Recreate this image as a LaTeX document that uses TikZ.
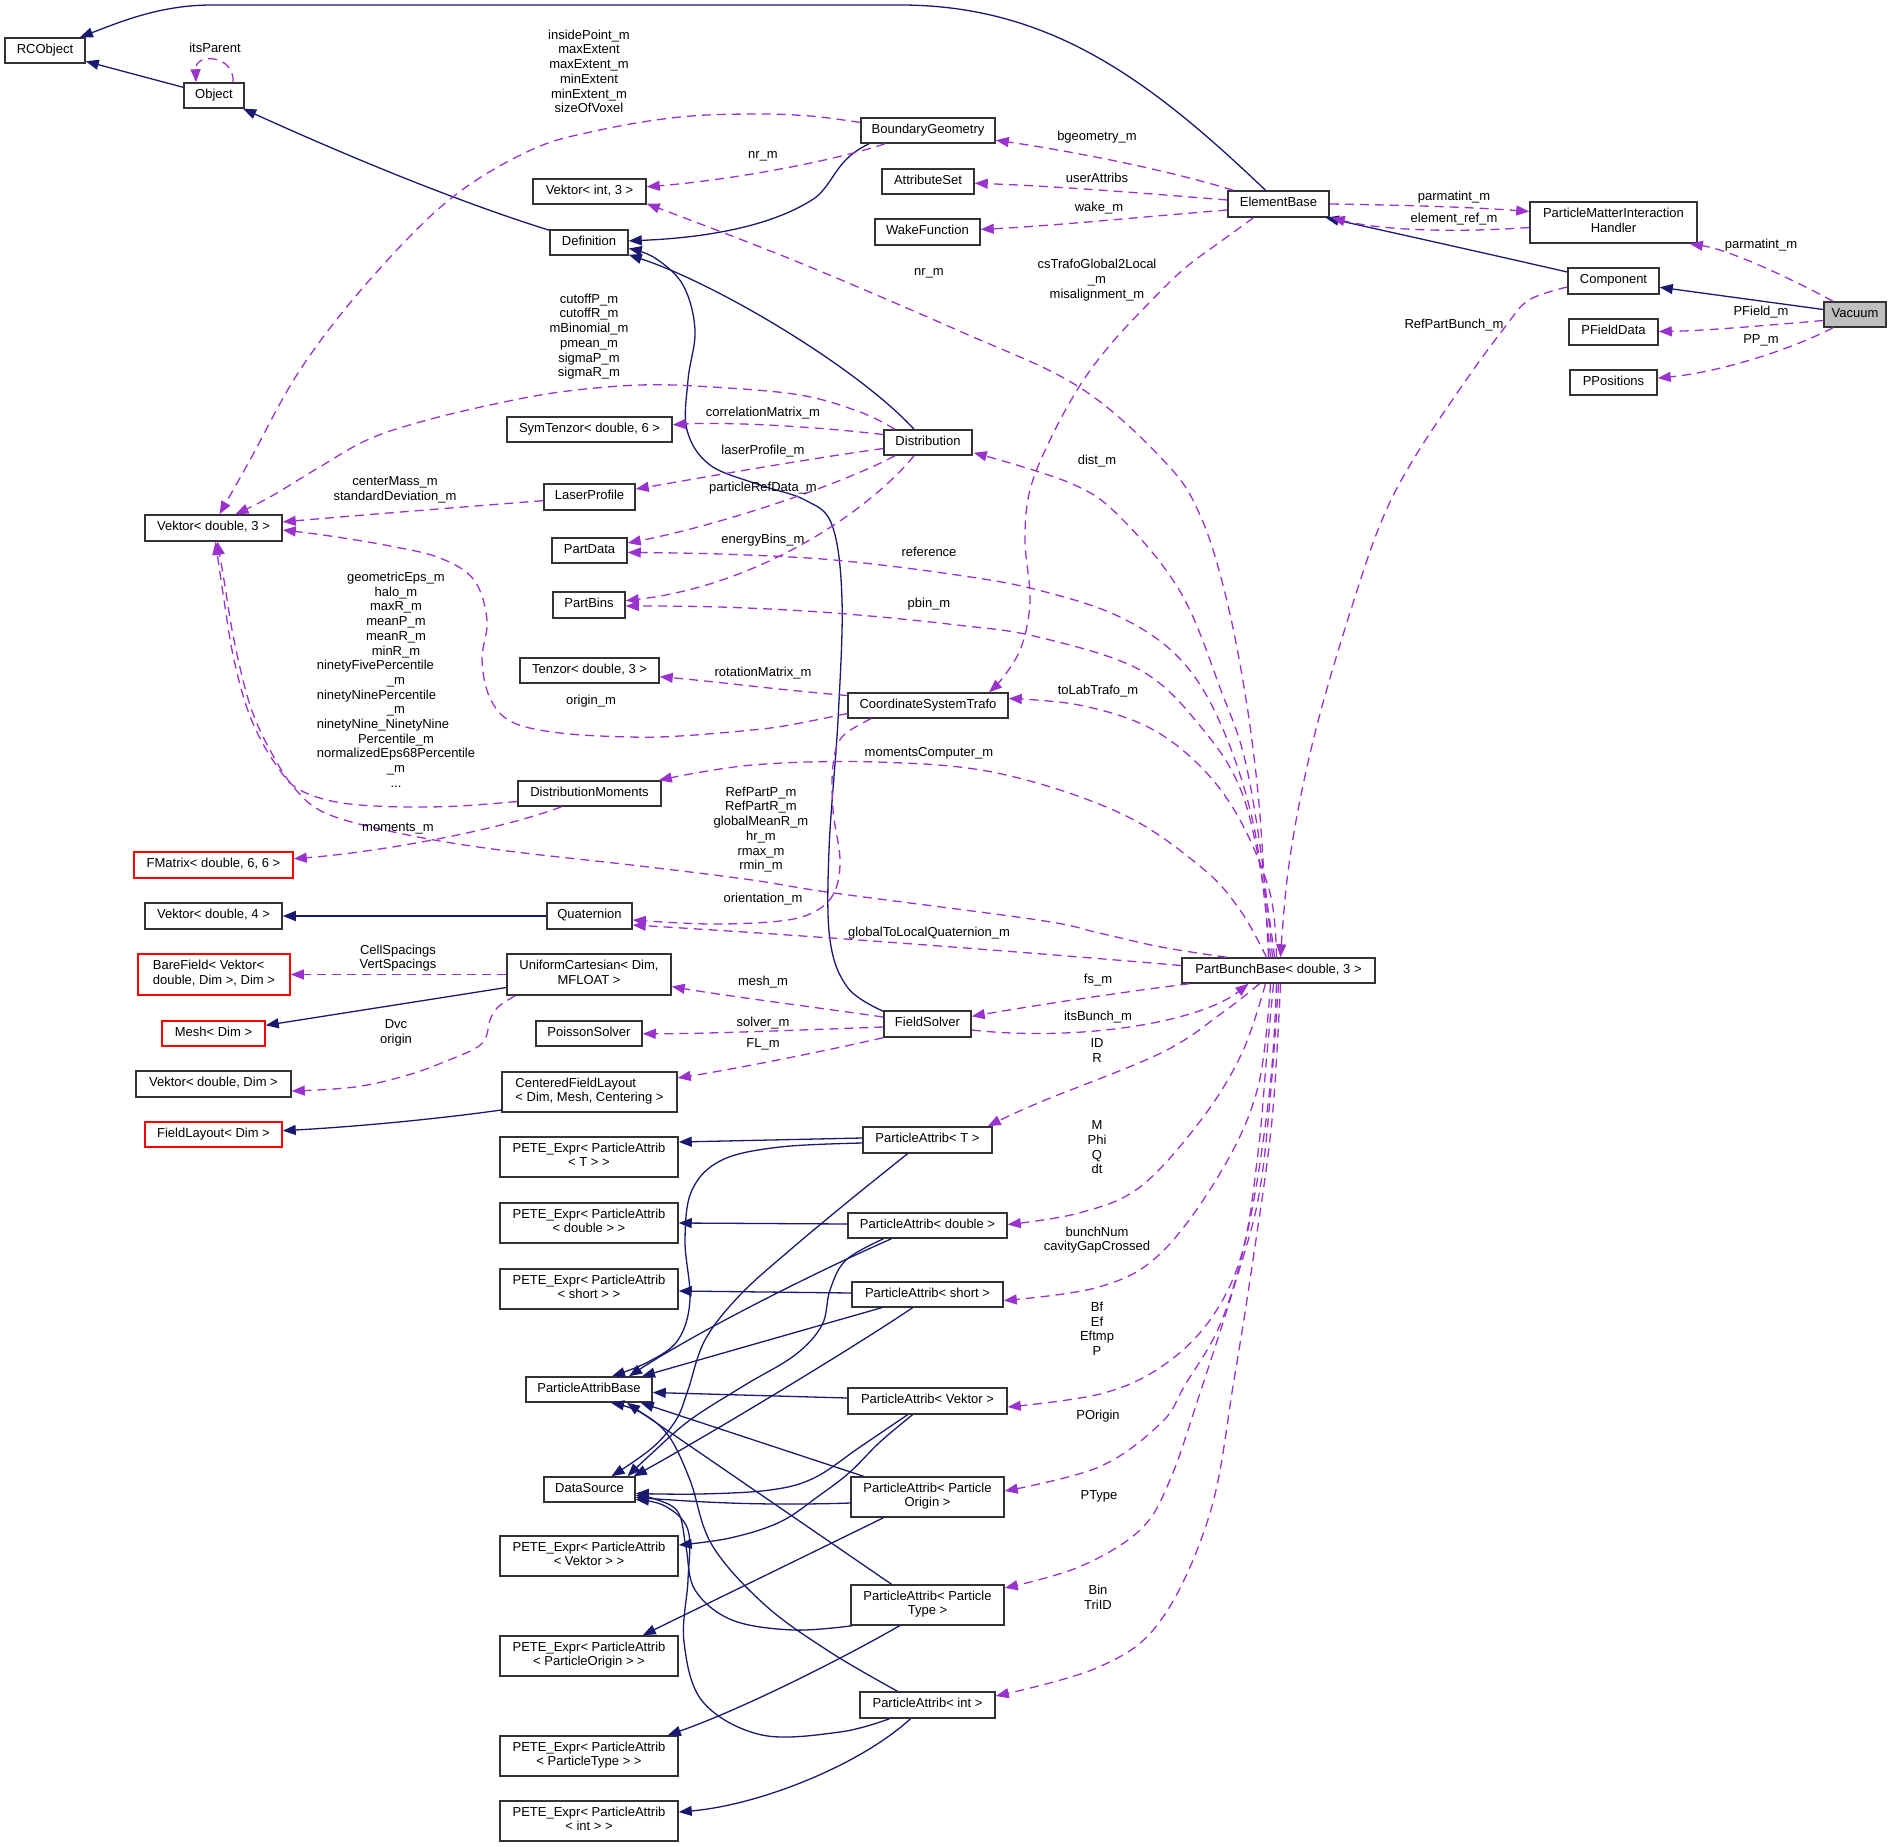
\documentclass[tikz,border=0pt]{standalone}
\usepackage{fontspec}
\setmainfont{Liberation Sans}
\usetikzlibrary{arrows.meta,calc}
\definecolor{navyc}{HTML}{191970}
\definecolor{purp}{HTML}{9A32CD}
\definecolor{boxc}{HTML}{333333}
\definecolor{grayf}{HTML}{BFBFBF}
\begin{document}
\begin{tikzpicture}[x=1pt,y=-1pt,
  lblfont/.style={font=\fontsize{13}{14.7}\selectfont},
  cls/.style={draw=boxc, line width=1.5pt, fill=white, inner sep=0pt, align=center, lblfont,
     execute at begin node=\strut, execute at end node=\strut},
  redcls/.style={cls, draw=red},
  lab/.style={lblfont, inner sep=0pt, align=center, execute at begin node=\strut, execute at end node=\strut},
  tablab/.style={lblfont, inner sep=0pt},
  inhedge/.style={navyc, line width=1.3pt, -{Triangle[length=13pt,width=10pt]}},
  usedge/.style={purp, line width=1.3pt, dash pattern=on 9pt off 6pt, -{Triangle[length=13pt,width=10pt]}},
]
\useasboundingbox (0,0) rectangle (1891,1847);
% ---------------- nodes ----------------
\node[cls, minimum width=80pt, minimum height=25pt] (rco) at (45,50.5) {RCObject};
\node[cls, minimum width=60pt, minimum height=25pt] (obj) at (214,95.5) {Object};
\node[cls, minimum width=78pt, minimum height=25pt] (def) at (589,242.5) {Definition};
\node[cls, minimum width=113pt, minimum height=25pt] (vi3) at (589.5,191.5) {Vektor< int, 3 >};
\node[cls, minimum width=134pt, minimum height=25pt] (bg) at (928,130.5) {BoundaryGeometry};
\node[cls, minimum width=92pt, minimum height=25pt] (as) at (928,181.5) {AttributeSet};
\node[cls, minimum width=105pt, minimum height=26pt] (wf) at (927.5,232) {WakeFunction};
\node[cls, minimum width=101pt, minimum height=26pt] (eb) at (1278.5,204) {ElementBase};
\node[cls, minimum width=167pt, minimum height=41pt] (pmih) at (1613.5,222.5) {ParticleMatterInteraction\\Handler};
\node[cls, minimum width=91pt, minimum height=26pt] (comp) at (1613.5,281) {Component};
\node[cls, fill=grayf, minimum width=62pt, minimum height=25pt] (vac) at (1855,314.5) {Vacuum};
\node[cls, minimum width=89pt, minimum height=26pt] (pfd) at (1613.5,332) {PFieldData};
\node[cls, minimum width=87pt, minimum height=25pt] (ppos) at (1613.5,382.5) {PPositions};
\node[cls, minimum width=165pt, minimum height=25pt] (st6) at (589.5,429.5) {SymTenzor< double, 6 >};
\node[cls, minimum width=88pt, minimum height=25pt] (dist) at (928,442.5) {Distribution};
\node[cls, minimum width=91pt, minimum height=26pt] (lp) at (589.5,497) {LaserProfile};
\node[cls, minimum width=137pt, minimum height=26pt] (vd3) at (213.5,528) {Vektor< double, 3 >};
\node[cls, minimum width=75pt, minimum height=25pt] (pd) at (589.5,550.5) {PartData};
\node[cls, minimum width=72pt, minimum height=26pt] (pbins) at (589,605) {PartBins};
\node[cls, minimum width=139pt, minimum height=25pt] (t3) at (589.5,670.5) {Tenzor< double, 3 >};
\node[cls, minimum width=160pt, minimum height=25pt] (cst) at (928,705.5) {CoordinateSystemTrafo};
\node[cls, minimum width=143pt, minimum height=25pt] (dm) at (589.5,793.5) {DistributionMoments};
\node[redcls, minimum width=159pt, minimum height=26pt] (fm) at (213.5,865) {FMatrix< double, 6, 6 >};
\node[cls, minimum width=137pt, minimum height=26pt] (vd4) at (213.5,916) {Vektor< double, 4 >};
\node[cls, minimum width=85pt, minimum height=26pt] (quat) at (589.5,916) {Quaternion};
\node[redcls, align=left, minimum width=152pt, minimum height=41pt] (bf) at (214,974.5) {BareField< Vektor<\\double, Dim >, Dim >};
\node[cls, minimum width=164pt, minimum height=41pt] (uc) at (589,974.5) {UniformCartesian< Dim,\\MFLOAT >};
\node[cls, minimum width=193pt, minimum height=25pt] (pbb) at (1278.5,970.5) {PartBunchBase< double, 3 >};
\node[redcls, minimum width=103pt, minimum height=25pt] (mesh) at (213.5,1033.5) {Mesh< Dim >};
\node[cls, minimum width=106pt, minimum height=25pt] (ps) at (589,1033.5) {PoissonSolver};
\node[cls, minimum width=87pt, minimum height=26pt] (fs) at (927.5,1024) {FieldSolver};
\node[cls, minimum width=155pt, minimum height=26pt] (vdd) at (213.5,1084) {Vektor< double, Dim >};
\node[cls, align=left, minimum width=175pt, minimum height=40pt] (cfl) at (589.5,1092) {CenteredFieldLayout\\< Dim, Mesh, Centering >};
\node[redcls, minimum width=137pt, minimum height=25pt] (fl) at (213.5,1134.5) {FieldLayout< Dim >};
\node[cls, minimum width=178pt, minimum height=40pt] (peT) at (589,1157) {PETE\_Expr< ParticleAttrib\\< T > >};
\node[cls, minimum width=129pt, minimum height=26pt] (paT) at (927.5,1140) {ParticleAttrib< T >};
\node[cls, minimum width=178pt, minimum height=40pt] (peD) at (589,1223) {PETE\_Expr< ParticleAttrib\\< double > >};
\node[cls, minimum width=159pt, minimum height=25pt] (paD) at (927.5,1225.5) {ParticleAttrib< double >};
\node[cls, minimum width=178pt, minimum height=40pt] (peS) at (589,1289) {PETE\_Expr< ParticleAttrib\\< short > >};
\node[cls, minimum width=151pt, minimum height=25pt] (paS) at (927.5,1294.5) {ParticleAttrib< short >};
\node[cls, minimum width=126pt, minimum height=25pt] (pab) at (589,1389.5) {ParticleAttribBase};
\node[cls, minimum width=159pt, minimum height=26pt] (paV) at (927.5,1401) {ParticleAttrib< Vektor >};
\node[cls, minimum width=91pt, minimum height=25pt] (ds) at (589.5,1489.5) {DataSource};
\node[cls, minimum width=153pt, minimum height=40pt] (paO) at (927.5,1497) {ParticleAttrib< Particle\\Origin >};
\node[cls, minimum width=178pt, minimum height=40pt] (peV) at (589,1556) {PETE\_Expr< ParticleAttrib\\< Vektor > >};
\node[cls, minimum width=153pt, minimum height=40pt] (paTy) at (927.5,1605) {ParticleAttrib< Particle\\Type >};
\node[cls, minimum width=178pt, minimum height=40pt] (peO) at (589,1656) {PETE\_Expr< ParticleAttrib\\< ParticleOrigin > >};
\node[cls, minimum width=135pt, minimum height=26pt] (paI) at (927.5,1705) {ParticleAttrib< int >};
\node[cls, minimum width=178pt, minimum height=40pt] (peTy) at (589,1756) {PETE\_Expr< ParticleAttrib\\< ParticleType > >};
\node[cls, minimum width=178pt, minimum height=40pt] (peI) at (589,1821) {PETE\_Expr< ParticleAttrib\\< int > >};
% ---------------- inheritance edges ----------------
\draw[inhedge] ($(eb.north)+(-13,0)$) .. controls (1150,80) and (1050,5) .. (900,5) -- (212,5) .. controls (160,5) and (120,22) .. (rco);
\draw[inhedge] (obj) -- (rco);
\draw[inhedge] (def) .. controls (500,215) and (400,180) .. (obj);
\draw[inhedge] ($(bg.south)+(-59,0)$) .. controls (835,160) and (835,182) .. (815,198) .. controls (770,228) and (700,238) .. (def);
\draw[inhedge] ($(dist.north)+(-14,0)$) .. controls (860,370) and (720,285) .. ($(def.south east)+(0,-1)$);
\draw[inhedge] plot[smooth,tension=0.6] coordinates {($(fs.north west)+(0,1)$) (848,988) (830,940) (829,850) (838,720) (842,600) (832,525) (805,500) (760,485) (710,465) (687,430) (688,380) (695,330) (683,285) (655,258) ($(def.east)+(0,6)$)};
\draw[inhedge] ($(uc.west)+(0,13)$) -- (mesh);
\draw[inhedge] ($(cfl.west)+(0,18)$) .. controls (430,1120) and (350,1127) .. (fl);
\draw[inhedge] (quat) -- (vd4);
% ParticleAttrib< T >
\draw[inhedge] ($(paT.west)+(0,-2)$) -- ($(peT.east)+(0,-15)$);
\draw[inhedge] plot[smooth,tension=0.6] coordinates {($(paT.west)+(0,3)$) (780,1147) (722,1160) (692,1190) (685,1240) (690,1300) (678,1340) (648,1362) ($(pab.north)+(23,0)$)};
\draw[inhedge] plot[smooth,tension=0.6] coordinates {($(paT.south)+(-20,0)$) (850,1200) (790,1250) (740,1295) (705,1340) (688,1390) (676,1420) (652,1448) ($(ds.north)+(22,0)$)};
% ParticleAttrib< double >
\draw[inhedge] ($(paD.west)+(0,-1.5)$) -- (peD.east);
\draw[inhedge] ($(paD.south)+(-36,0)$) .. controls (820,1270) and (700,1330) .. ($(pab.north)+(40,0)$);
\draw[inhedge] plot[smooth,tension=0.6] coordinates {($(paD.south)+(-44,0)$) (846,1260) (830,1290) (822,1325) (795,1355) (745,1385) (690,1420) (650,1455) ($(ds.north)+(38,0)$)};
% ParticleAttrib< short >
\draw[inhedge] ($(paS.west)+(0,-1.5)$) -- ($(peS.east)+(0,2)$);
\draw[inhedge] ($(paS.south)+(-46,0)$) -- ($(pab.north)+(53,0)$);
\draw[inhedge] ($(paS.south)+(-15,0)$) .. controls (850,1350) and (700,1440) .. ($(ds.north east)+(-2,0)$);
% ParticleAttrib< Vektor >
\draw[inhedge] ($(paV.west)+(0,-3)$) -- ($(pab.east)+(0,3)$);
\draw[inhedge] plot[smooth,tension=0.6] coordinates {($(paV.south)+(-15,0)$) (880,1442) (850,1472) (820,1495) (780,1522) (730,1538) ($(peV.east)+(0,-11)$)};
\draw[inhedge] plot[smooth,tension=0.6] coordinates {($(paV.south)+(-20,0)$) (860,1447) (814,1478) (770,1490) (700,1494) ($(ds.east)+(0,4)$)};
% ParticleAttrib< ParticleOrigin >
\draw[inhedge] ($(paO.west)+(0,6)$) .. controls (760,1506) and (700,1502) .. ($(ds.east)+(0,8)$);
\draw[inhedge] ($(paO.north)+(-64,0)$) -- ($(pab.south east)+(-12,0)$);
\draw[inhedge] ($(paO.south)+(-44,0)$) -- ($(peO.north east)+(-36,0)$);
% ParticleAttrib< ParticleType >
\draw[inhedge] ($(paTy.north)+(-36,0)$) -- ($(pab.south)+(38,0)$);
\draw[inhedge] plot[smooth,tension=0.6] coordinates {($(paTy.south west)+(2,0)$) (793,1630) (732,1620) (695,1590) (686,1547) (678,1512) (655,1499) ($(ds.east)+(0,6)$)};
\draw[inhedge] ($(paTy.south)+(-28,0)$) .. controls (840,1660) and (740,1710) .. ($(peTy.north east)+(-11,0)$);
% ParticleAttrib< int >
\draw[inhedge] plot[smooth,tension=0.6] coordinates {($(paI.north)+(-30,0)$) (830,1652) (765,1605) (712,1545) (690,1480) (668,1435) (640,1412) ($(pab.south)+(22,0)$)};
\draw[inhedge] plot[smooth,tension=0.6] coordinates {($(paI.south)+(-38,0)$) (840,1732) (762,1735) (703,1702) (684,1642) (688,1580) (688,1530) (665,1506) ($(ds.east)+(0,10)$)};
\draw[inhedge] ($(paI.south)+(-17,0)$) .. controls (860,1765) and (760,1805) .. ($(peI.east)+(0,-9)$);
% Vacuum / Component
\draw[inhedge] ($(vac.west)+(0,-5)$) -- (comp);
\draw[inhedge] ($(comp.west)+(0,-9)$) .. controls (1480,252) and (1390,232) .. ($(eb.south east)+(-4,0)$);
% ---------------- usage edges ----------------
\draw[usedge] ($(obj.north)+(19,0)$) .. controls (235,55) and (195,52) .. ($(obj.north)+(-18,0)$);
\draw[usedge] ($(vac.north)+(-22,0)$) .. controls (1790,278) and (1730,250) .. ($(pmih.south east)+(-8,0)$);
\draw[usedge] ($(vac.west)+(0,6)$) .. controls (1760,326) and (1700,331) .. (pfd);
\draw[usedge] ($(vac.south)+(-22,0)$) .. controls (1790,350) and (1720,372) .. (ppos);
\draw[usedge] plot[smooth,tension=0.6] coordinates {($(comp.west)+(0,6)$) (1529,300) (1505,327) (1464,383) (1413,460) (1382,520) (1354,600) (1321,710) (1300,800) (1287,880) ($(pbb.north)+(2,0)$)};
\draw[usedge] ($(eb.north west)+(6,0)$) .. controls (1150,165) and (1050,148) .. (bg);
\draw[usedge] ($(eb.west)+(0,-4)$) .. controls (1130,192) and (1050,186) .. (as);
\draw[usedge] ($(eb.west)+(0,6)$) .. controls (1130,218) and (1050,226) .. (wf);
\draw[usedge] (eb.east) .. controls (1400,205) and (1470,207) .. ($(pmih.west)+(0,-11)$);
\draw[usedge] ($(pmih.west)+(0,5)$) .. controls (1450,233) and (1380,230) .. ($(eb.south east)+(2,0)$);
\draw[usedge] plot[smooth,tension=0.6] coordinates {($(eb.south)+(-25,0)$) (1220,242) (1185,268) (1150,302) (1110,345) (1079,387) (1050,440) (1030,490) (1025,540) (1030,600) (1022,645) (1005,675) ($(cst.north)+(61,0)$)};
\draw[usedge] ($(bg.south)+(-43,0)$) .. controls (830,162) and (730,180) .. (vi3);
\draw[usedge] plot[smooth,tension=0.6] coordinates {($(bg.west)+(0,-8)$) (810,116) (752,114) (680,117) (600,130) (531,150) (449,200) (367,283) (300,370) (250,460) ($(vd3.north)+(6,0)$)};
\draw[usedge] plot[smooth,tension=0.6] coordinates {($(dist.north)+(-33,0)$) (860,412) (800,395) (712,387) (640,385) (560,392) (490,405) (420,422) (367,440) (318,468) (270,497) ($(vd3.north)+(22,0)$)};
\draw[usedge] ($(dist.west)+(0,-8)$) .. controls (800,425) and (720,422) .. (st6);
\draw[usedge] ($(dist.west)+(0,6)$) .. controls (800,460) and (700,478) .. (lp);
\draw[usedge] ($(dist.south)+(-33,0)$) .. controls (840,485) and (720,525) .. (pd);
\draw[usedge] ($(dist.south)+(-14,0)$) .. controls (870,510) and (760,585) .. (pbins);
\draw[usedge] (lp) .. controls (450,508) and (350,516) .. (vd3);
\draw[usedge] ($(cst.west)+(0,-10)$) .. controls (780,690) and (720,682) .. (t3);
\draw[usedge] plot[smooth,tension=0.6] coordinates {($(cst.west)+(0,8)$) (790,725) (752,730) (680,736) (630,737) (560,733) (512,722) (490,698) (482,660) (487,620) (474,580) (440,558) (390,546) (330,536) ($(vd3.east)+(0,2)$)};
\draw[usedge] plot[smooth,tension=0.6] coordinates {($(cst.south)+(-57,0)$) (842,737) (833,765) (833,810) (840,860) (834,893) (814,912) (780,921) (710,924) ($(quat.east)+(0,4)$)};
\draw[usedge] plot[smooth,tension=0.6] coordinates {($(dm.west)+(0,8)$) (460,806) (408,807) (360,805) (327,800) (300,790) (284,776) (262,742) (246,705) (233,655) (224,600) ($(vd3.south)+(2,0)$)};
\draw[usedge] ($(dm.south)+(-28,0)$) .. controls (500,830) and (380,852) .. (fm);
% PartBunchBase upward
\draw[usedge] plot[smooth,tension=0.6] coordinates {($(pbb.north)+(-10,0)$) (1265,893) (1258,793) (1245,693) (1225,593) (1200,515) (1165,462) (1079,387) (957,330) (793,260) ($(vi3.south east)+(0,-1)$)};
\draw[usedge] plot[smooth,tension=0.6] coordinates {($(pbb.north)+(-6,0)$) (1262,860) (1245,760) (1222,693) (1181,593) (1120,517) (1070,483) ($(dist.south east)+(1,-3)$)};
\draw[usedge] plot[smooth,tension=0.6] coordinates {($(pbb.north)+(-8,0)$) (1254,827) (1222,727) (1181,660) (1120,617) (1038,590) (957,575) (834,560) (720,554) ($(pd.east)+(0,2)$)};
\draw[usedge] plot[smooth,tension=0.6] coordinates {($(pbb.north)+(-4,0)$) (1265,893) (1242,793) (1201,727) (1140,670) (1038,637) (957,625) (834,613) (720,607) ($(pbins.east)+(0,1)$)};
\draw[usedge] plot[smooth,tension=0.6] coordinates {($(pbb.north)+(-2,0)$) (1270,893) (1240,820) (1201,767) (1148,727) (1079,705) ($(cst.east)+(0,-7)$)};
\draw[usedge] plot[smooth,tension=0.6] coordinates {($(pbb.north)+(-12,0)$) (1240,910) (1201,867) (1120,813) (997,773) (875,762) (752,765) ($(dm.north east)+(-3,0)$)};
\draw[usedge] plot[smooth,tension=0.6] coordinates {($(pbb.north)+(-52,0)$) (1161,947) (1099,933) (1038,920) (834,893) (752,880) (640,866) (500,850) (408,835) (330,815) (296,790) (270,750) (250,705) (234,640) (224,580) ($(vd3.south)+(4,0)$)};
\draw[usedge] ($(pbb.west)+(0,-5)$) .. controls (1000,950) and (800,935) .. ($(quat.east)+(0,9)$);
\draw[usedge] ($(pbb.south west)+(8,0)$) .. controls (1100,995) and (1020,1008) .. (fs);
\draw[usedge] ($(fs.east)+(0,6)$) .. controls (1080,1042) and (1200,1022) .. ($(pbb.south)+(-30,0)$);
% PartBunchBase downward
\draw[usedge] plot[smooth,tension=0.6] coordinates {($(pbb.south)+(-19,0)$) (1222,1013) (1161,1053) (1038,1103) ($(paT.north east)+(-5,0)$)};
\draw[usedge] plot[smooth,tension=0.6] coordinates {($(pbb.south)+(-13,0)$) (1242,1053) (1201,1120) (1140,1187) (1079,1213) ($(paD.east)+(0,-1)$)};
\draw[usedge] plot[smooth,tension=0.6] coordinates {($(pbb.south)+(-8,0)$) (1258,1087) (1222,1170) (1161,1253) (1099,1287) ($(paS.east)+(0,6)$)};
\draw[usedge] plot[smooth,tension=0.6] coordinates {($(pbb.south)+(-5,0)$) (1267,1053) (1258,1153) (1242,1253) (1210,1320) (1161,1367) (1100,1394) ($(paV.east)+(0,6)$)};
\draw[usedge] plot[smooth,tension=0.6] coordinates {($(pbb.south)+(-2,0)$) (1270,1087) (1250,1220) (1222,1320) (1185,1385) (1161,1423) (1099,1467) ($(paO.east)+(0,-6)$)};
\draw[usedge] plot[smooth,tension=0.6] coordinates {(pbb.south) (1270,1100) (1258,1200) (1234,1287) (1201,1390) (1170,1480) (1140,1530) (1079,1567) ($(paTy.east)+(0,-17)$)};
\draw[usedge] plot[smooth,tension=0.6] coordinates {($(pbb.south)+(2,0)$) (1272,1120) (1254,1253) (1234,1380) (1210,1513) (1161,1620) (1099,1667) ($(paI.east)+(0,-9)$)};
% FieldSolver / UniformCartesian
\draw[usedge] ($(fs.west)+(0,-7)$) .. controls (820,1008) and (720,995) .. ($(uc.east)+(0,12)$);
\draw[usedge] ($(fs.west)+(0,3)$) .. controls (800,1030) and (700,1034) .. (ps);
\draw[usedge] (fs.south west) .. controls (820,1052) and (740,1068) .. ($(cfl.east)+(0,-14)$);
\draw[usedge] (uc) -- (bf);
\draw[usedge] plot[smooth,tension=0.6] coordinates {($(uc.south west)+(9,0)$) (498,1007) (490,1020) (486,1037) (476,1048) (449,1060) (408,1075) (355,1087) ($(vdd.east)+(0,7)$)};
% ---------------- labels ----------------
\node[lab] (t01) at (215,50) {itsParent};
\node[lab] (t02) at (589,73.5) {insidePoint\_m\\maxExtent\\maxExtent\_m\\minExtent\\minExtent\_m\\sizeOfVoxel};
\node[lab] (t03) at (763,156) {nr\_m};
\node[lab] (t04) at (1097,138) {bgeometry\_m};
\node[lab] (t05) at (1097,180) {userAttribs};
\node[lab] (t06) at (1099,209) {wake\_m};
\node[lab] (t07) at (1454,198) {parmatint\_m};
\node[lab] (t08) at (1454,220) {element\_ref\_m};
\node[lab] (t09) at (1761,246) {parmatint\_m};
\node[lab] (t10) at (1761,313) {PField\_m};
\node[lab] (t11) at (1761,341) {PP\_m};
\node[lab] (t12) at (1454,326) {RefPartBunch\_m};
\node[lab] (t13) at (929,273) {nr\_m};
\node[lab] (t14) at (1097,281) {csTrafoGlobal2Local\\\_m\\misalignment\_m};
\node[lab] (t15) at (589,337.5) {cutoffP\_m\\cutoffR\_m\\mBinomial\_m\\pmean\_m\\sigmaP\_m\\sigmaR\_m};
\node[lab] (t16) at (763,414) {correlationMatrix\_m};
\node[lab] (t17) at (763,452) {laserProfile\_m};
\node[lab] (t18) at (1097,462) {dist\_m};
\node[lab] (t19) at (395,491) {centerMass\_m\\standardDeviation\_m};
\node[lab] (t20) at (763,489) {particleRefData\_m};
\node[lab] (t21) at (763,541) {energyBins\_m};
\node[lab] (t22) at (929,554) {reference};
\node[lab] (t23) at (929,605) {pbin\_m};
\node[tablab] (t24) at (396,681.5) {\begin{tabular}{@{}c@{}}geometricEps\_m\\halo\_m\\maxR\_m\\meanP\_m\\meanR\_m\\minR\_m\\\multicolumn{1}{@{}l@{}}{ninetyFivePercentile}\\\_m\\\multicolumn{1}{@{}l@{}}{ninetyNinePercentile}\\\_m\\\multicolumn{1}{@{}l@{}}{ninetyNine\_NinetyNine}\\Percentile\_m\\normalizedEps68Percentile\\\_m\\...\end{tabular}};
\node[lab] (t25) at (591,702) {origin\_m};
\node[lab] (t26) at (763,674) {rotationMatrix\_m};
\node[lab] (t27) at (1098,692) {toLabTrafo\_m};
\node[lab] (t28) at (929,754) {momentsComputer\_m};
\node[lab] (t29) at (761,830.5) {RefPartP\_m\\RefPartR\_m\\globalMeanR\_m\\hr\_m\\rmax\_m\\rmin\_m};
\node[lab] (t30) at (398,829) {moments\_m};
\node[lab] (t31) at (763,900) {orientation\_m};
\node[lab] (t32) at (929,934) {globalToLocalQuaternion\_m};
\node[lab] (t33) at (398,959) {CellSpacings\\VertSpacings};
\node[lab] (t34) at (763,983) {mesh\_m};
\node[lab] (t35) at (1098,981) {fs\_m};
\node[lab] (t36) at (1098,1018) {itsBunch\_m};
\node[lab] (t37) at (763,1024) {solver\_m};
\node[lab] (t38) at (396,1033.5) {Dvc\\origin};
\node[lab] (t39) at (763,1045) {FL\_m};
\node[lab] (t40) at (1097,1053) {ID\\R};
\node[lab] (t41) at (1097,1149.5) {M\\Phi\\Q\\dt};
\node[lab] (t42) at (1097,1241) {bunchNum\\cavityGapCrossed};
\node[lab] (t43) at (1097,1331) {Bf\\Ef\\Eftmp\\P};
\node[lab] (t44) at (1098,1417) {POrigin};
\node[lab] (t45) at (1099,1497) {PType};
\node[lab] (t46) at (1098,1599.5) {Bin\\TriID};
\end{tikzpicture}
\end{document}
